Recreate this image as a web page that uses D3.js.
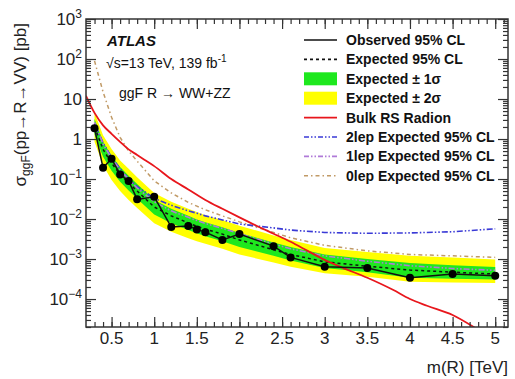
<!DOCTYPE html>
<html>
<head>
<meta charset="utf-8">
<script src="https://cdn.jsdelivr.net/npm/d3@7/dist/d3.min.js"></script>
<style>
  html, body { margin: 0; padding: 0; background: #fff; }
  svg { display: block; font-family: "Liberation Sans", Arial, Helvetica, sans-serif; }
</style>
</head>
<body>
<svg id="chart" width="515" height="379"></svg>
<script>
// Resonance masses (TeV) at which the limits were computed
const massPoints = [0.3, 0.4, 0.5, 0.6, 0.7, 0.8, 1.0, 1.2, 1.4, 1.5, 1.6, 1.8, 2.0, 2.4, 2.6, 3.0, 3.5, 4.0, 4.5, 5.0];

// Combined limits on sigma x BR (pb)
const observedLimit = [1.85, 0.19, 0.32, 0.13, 0.089, 0.031, 0.036, 0.0063, 0.0067, 0.0055, 0.0047, 0.0030, 0.0042, 0.0021, 0.0011, 0.00064, 0.00060, 0.00034, 0.00042, 0.00038];
const expectedLimit = [2.0, 0.55, 0.25, 0.13, 0.08, 0.05, 0.02, 0.012, 0.008, 0.0066, 0.0056, 0.0042, 0.0030, 0.0017, 0.0013, 0.00085, 0.00066, 0.00053, 0.00047, 0.00042];
const expectedPlus1 = [3.2, 0.85, 0.38, 0.2, 0.12, 0.075, 0.03, 0.018, 0.012, 0.0098, 0.0083, 0.0062, 0.0045, 0.0026, 0.0020, 0.0013, 0.0010, 0.00080, 0.00070, 0.00063];
const expectedMinus1 = [1.3, 0.36, 0.16, 0.085, 0.052, 0.032, 0.013, 0.0078, 0.0053, 0.0044, 0.0037, 0.0028, 0.0020, 0.0012, 0.00092, 0.00060, 0.00047, 0.00034, 0.00032, 0.00031];
const expectedPlus2 = [4.6, 1.25, 0.56, 0.29, 0.18, 0.11, 0.045, 0.027, 0.018, 0.015, 0.0125, 0.0094, 0.0068, 0.0039, 0.0030, 0.0019, 0.0015, 0.0012, 0.0011, 0.00098];
const expectedMinus2 = [0.85, 0.22, 0.095, 0.05, 0.03, 0.019, 0.0078, 0.0048, 0.0033, 0.0028, 0.0024, 0.0018, 0.0013, 0.00082, 0.00064, 0.00044, 0.00036, 0.00027, 0.00026, 0.00025];

// Expected limits of the individual lepton channels (pb)
const expected2lep = [2.5, 0.8, 0.35, 0.18, 0.10, 0.065, 0.033, 0.022, 0.016, 0.014, 0.012, 0.0095, 0.0075, 0.0060, 0.0053, 0.0046, 0.0044, 0.0045, 0.0048, 0.0057];
const expected1lep = [2.6, 0.75, 0.33, 0.17, 0.10, 0.06, 0.027, 0.016, 0.011, 0.0092, 0.0078, 0.0058, 0.0043, 0.0024, 0.0018, 0.0012, 0.00088, 0.00068, 0.00058, 0.00052];
const expected0lep = [90, 15, 3.5, 1.1, 0.5, 0.28, 0.09, 0.045, 0.026, 0.021, 0.017, 0.012, 0.0085, 0.0046, 0.0034, 0.0022, 0.0016, 0.0013, 0.0012, 0.0011];

// Bulk RS radion theory cross-section
const radionMass = [0.2, 0.3, 0.4, 0.5, 0.6, 0.7, 0.8, 0.9, 1.0, 1.2, 1.4, 1.6, 1.8, 2.0, 2.2, 2.4, 2.6, 2.8, 3.0, 3.2, 3.5, 3.8, 4.0, 4.2, 4.5, 4.8];
const radionXsec = [12, 4.5, 2.2, 1.35, 0.85, 0.55, 0.4, 0.29, 0.21, 0.1, 0.055, 0.03, 0.018, 0.011, 0.0068, 0.0043, 0.0027, 0.0016, 0.00095, 0.00062, 0.00034, 0.00017, 0.0001, 0.000068, 0.00004, 0.000017];

// Axis ticks
const xMajorTicks = [0.5, 1, 1.5, 2, 2.5, 3, 3.5, 4, 4.5, 5];
const xMinorTicks = d3.range(3, 52).map(i => i / 10);
const yDecadeExponents = [3, 2, 1, 0, -1, -2, -3, -4];

const svg = d3.select("#chart");
const plotLeft = 86, plotRight = 508, plotTop = 19, plotBottom = 327;

const x = d3.scaleLinear().domain([0.2, 5.15]).range([plotLeft, plotRight]);
const y = d3.scaleLog().domain([2e-5, 1e3]).range([plotBottom, plotTop]);

svg.append("defs").append("clipPath").attr("id", "plotClip")
  .append("rect").attr("x", plotLeft).attr("y", plotTop)
  .attr("width", plotRight - plotLeft).attr("height", plotBottom - plotTop);

const plot = svg.append("g").attr("clip-path", "url(#plotClip)");

const band = (lo, hi) => d3.area()
  .x((d, i) => x(massPoints[i]))
  .y0((d, i) => y(lo[i]))
  .y1((d, i) => y(hi[i]));

const line = vals => d3.line()
  .x((d, i) => x(massPoints[i]))
  .y((d, i) => y(vals[i]));

const green = "#1ee81e";

// +-2 sigma and +-1 sigma bands
plot.append("path").attr("d", band(expectedMinus2, expectedPlus2)(massPoints))
  .attr("fill", "#ffff00");
plot.append("path").attr("d", band(expectedMinus1, expectedPlus1)(massPoints))
  .attr("fill", green);

// Individual channel expectations
plot.append("path").attr("d", line(expected0lep)(massPoints))
  .attr("fill", "none").attr("stroke", "#c19a66").attr("stroke-width", 1.5)
  .attr("stroke-dasharray", "4,3,1.5,3");
plot.append("path").attr("d", line(expected2lep)(massPoints))
  .attr("fill", "none").attr("stroke", "#3a3ad6").attr("stroke-width", 1.6)
  .attr("stroke-dasharray", "6,2,1.5,2,1.5,2");
plot.append("path").attr("d", line(expected1lep)(massPoints))
  .attr("fill", "none").attr("stroke", "#b07ad8").attr("stroke-width", 1.6)
  .attr("stroke-dasharray", "6,2,1.5,2,1.5,2");

// Combined expected limit
plot.append("path").attr("d", line(expectedLimit)(massPoints))
  .attr("fill", "none").attr("stroke", "#111").attr("stroke-width", 1.5)
  .attr("stroke-dasharray", "3,3");

// Radion cross-section
plot.append("path")
  .attr("d", d3.line().x(d => x(d[0])).y(d => y(d[1])).curve(d3.curveMonotoneX)(radionMass.map((m, i) => [m, radionXsec[i]])))
  .attr("fill", "none").attr("stroke", "#e8161c").attr("stroke-width", 1.8);

// Observed limit
plot.append("path").attr("d", line(observedLimit)(massPoints))
  .attr("fill", "none").attr("stroke", "#111").attr("stroke-width", 1.5);
plot.selectAll("circle.obs").data(observedLimit).join("circle")
  .attr("class", "obs")
  .attr("cx", (d, i) => x(massPoints[i]))
  .attr("cy", d => y(d))
  .attr("r", 4).attr("fill", "#000");

// Axes with inward ticks on all four sides
const axisColor = "#333";
function styleAxis(g) {
  g.select(".domain").remove();
  g.selectAll("line").attr("stroke", axisColor).attr("stroke-width", 1.2);
  g.selectAll("text").remove();
}
const yMinorTicks = [];
for (let e = -5; e < 3; e++) for (let k = 2; k <= 9; k++) {
  const v = k * Math.pow(10, e);
  if (v >= 2e-5 && v <= 1e3) yMinorTicks.push(v);
}
const yMajorTicks = yDecadeExponents.map(e => Math.pow(10, e));

svg.append("g").attr("transform", `translate(0,${plotBottom})`)
  .call(d3.axisBottom(x).tickValues(xMinorTicks).tickSize(-5)).call(styleAxis);
svg.append("g").attr("transform", `translate(0,${plotBottom})`)
  .call(d3.axisBottom(x).tickValues(xMajorTicks).tickSize(-10)).call(styleAxis);
svg.append("g").attr("transform", `translate(0,${plotTop})`)
  .call(d3.axisTop(x).tickValues(xMinorTicks).tickSize(-5)).call(styleAxis);
svg.append("g").attr("transform", `translate(0,${plotTop})`)
  .call(d3.axisTop(x).tickValues(xMajorTicks).tickSize(-10)).call(styleAxis);
svg.append("g").attr("transform", `translate(${plotLeft},0)`)
  .call(d3.axisLeft(y).tickValues(yMinorTicks).tickSize(-5)).call(styleAxis);
svg.append("g").attr("transform", `translate(${plotLeft},0)`)
  .call(d3.axisLeft(y).tickValues(yMajorTicks).tickSize(-10)).call(styleAxis);
svg.append("g").attr("transform", `translate(${plotRight},0)`)
  .call(d3.axisRight(y).tickValues(yMinorTicks).tickSize(-5)).call(styleAxis);
svg.append("g").attr("transform", `translate(${plotRight},0)`)
  .call(d3.axisRight(y).tickValues(yMajorTicks).tickSize(-10)).call(styleAxis);

svg.append("rect").attr("x", plotLeft).attr("y", plotTop)
  .attr("width", plotRight - plotLeft).attr("height", plotBottom - plotTop)
  .attr("fill", "none").attr("stroke", axisColor).attr("stroke-width", 1.5);

// X tick labels
svg.append("g").selectAll("text").data(xMajorTicks).join("text")
  .attr("x", d => x(d)).attr("y", plotBottom + 17)
  .attr("text-anchor", "middle").attr("font-size", 17).attr("fill", "#222")
  .text(d => d);

// Y tick labels as powers of ten
const yLab = svg.append("g").selectAll("text").data(yDecadeExponents).join("text")
  .attr("x", plotLeft - 4).attr("y", d => y(Math.pow(10, d)) + 6)
  .attr("text-anchor", "end").attr("font-size", 17).attr("fill", "#222");
yLab.each(function (e) {
  const t = d3.select(this);
  if (e === 0) { t.text("1"); return; }
  if (e === 1) { t.text("10"); return; }
  t.append("tspan").text("10");
  t.append("tspan").attr("dy", -7).attr("font-size", 12).text(e < 0 ? "\u2212" + (-e) : String(e));
});

// Axis titles
svg.append("text").attr("x", plotRight).attr("y", 373)
  .attr("text-anchor", "end").attr("font-size", 17).attr("fill", "#222")
  .text("m(R) [TeV]");

const yTitle = svg.append("text")
  .attr("transform", `translate(26,${plotTop + 4}) rotate(-90)`)
  .attr("text-anchor", "end").attr("font-size", 17).attr("fill", "#222");
yTitle.append("tspan").text("\u03c3");
yTitle.append("tspan").attr("dy", 4).attr("font-size", 12).text("ggF");
yTitle.append("tspan").attr("dy", -4).text("(pp\u2192R\u2192VV) [pb]");

// Labels in the plot
svg.append("text").attr("x", 107).attr("y", 46)
  .attr("font-size", 15).attr("font-weight", "bold").attr("font-style", "italic")
  .attr("fill", "#111").text("ATLAS");
const energy = svg.append("text").attr("x", 106).attr("y", 68)
  .attr("font-size", 14).attr("fill", "#111");
energy.append("tspan").text("\u221as=13 TeV, 139 fb");
energy.append("tspan").attr("dy", -6).attr("font-size", 10).text("-1");
svg.append("text").attr("x", 119).attr("y", 98)
  .attr("font-size", 14).attr("fill", "#111").text("ggF R \u2192 WW+ZZ");

// Legend
const legendEntries = [
  { label: "Observed 95% CL", kind: "line", color: "#111", dash: null },
  { label: "Expected 95% CL", kind: "line", color: "#111", dash: "3,3" },
  { label: "Expected \u00b1 1\u03c3", kind: "box", color: green },
  { label: "Expected \u00b1 2\u03c3", kind: "box", color: "#ffff00" },
  { label: "Bulk RS Radion", kind: "line", color: "#e8161c", dash: null },
  { label: "2lep Expected 95% CL", kind: "line", color: "#3a3ad6", dash: "5,2,1.5,2,1.5,2" },
  { label: "1lep Expected 95% CL", kind: "line", color: "#b07ad8", dash: "5,2,1.5,2,1.5,2" },
  { label: "0lep Expected 95% CL", kind: "line", color: "#c19a66", dash: "4,3,1.5,3" }
];
const legend = svg.append("g").selectAll("g").data(legendEntries).join("g")
  .attr("transform", (d, i) => `translate(304,${40 + i * 19.4})`);
legend.filter(d => d.kind === "box").append("rect")
  .attr("x", 0).attr("y", -6.5).attr("width", 33).attr("height", 13).attr("fill", d => d.color);
legend.filter(d => d.kind === "line").append("line")
  .attr("x1", 0).attr("x2", 33).attr("y1", 0).attr("y2", 0)
  .attr("stroke", d => d.color).attr("stroke-width", 1.6)
  .attr("stroke-dasharray", d => d.dash);
legend.append("text").attr("x", 42).attr("y", 5)
  .attr("font-size", 14).attr("font-weight", "bold").attr("fill", "#111")
  .text(d => d.label);
</script>
</body>
</html>
